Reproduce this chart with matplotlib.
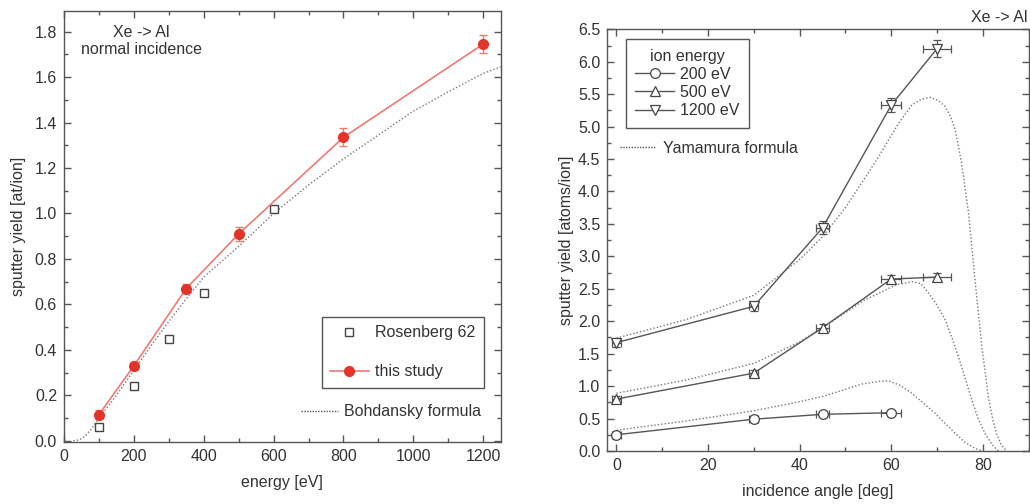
import matplotlib.pyplot as plt
from matplotlib.lines import Line2D
from matplotlib.ticker import MultipleLocator
import numpy as np

plt.rcParams['font.family'] = ['Liberation Sans', 'DejaVu Sans']
plt.rcParams['font.size'] = 11.5
plt.rcParams['text.color'] = '#333333'
plt.rcParams['axes.labelcolor'] = '#333333'
plt.rcParams['xtick.color'] = '#555555'
plt.rcParams['ytick.color'] = '#555555'
plt.rcParams['xtick.labelcolor'] = '#333333'
plt.rcParams['ytick.labelcolor'] = '#333333'

# --- left panel: yield vs energy, normal incidence ---
rosenEnergy = [100, 200, 300, 400, 600]
rosenYield = [0.06, 0.24, 0.45, 0.65, 1.02]

studyEnergy = [100, 200, 350, 500, 800, 1200]
studyYield = [0.115, 0.33, 0.67, 0.91, 1.335, 1.745]
studyErr = [0.02, 0.018, 0.018, 0.03, 0.04, 0.04]

bohdEnergy = [27, 45, 60, 80, 100, 150, 200, 250, 300, 350, 400, 500, 600,
              700, 800, 900, 1000, 1100, 1200, 1250]
bohdYield = [0.0, 0.005, 0.02, 0.055, 0.10, 0.20, 0.31, 0.42, 0.525, 0.625,
             0.72, 0.855, 1.0, 1.125, 1.24, 1.345, 1.45, 1.535, 1.616, 1.645]

# --- right panel: yield vs incidence angle ---
angles = [0, 30, 45, 60, 70]
yield200 = [0.25, 0.49, 0.565, 0.59]
yield500 = [0.80, 1.20, 1.90, 2.65, 2.68]
yield1200 = [1.67, 2.23, 3.44, 5.33, 6.20]
angleErr = [1.0, 1.0, 1.5, 2.2, 3.0]
err200 = [0.04, 0.04, 0.03, 0.04]
err500 = [0.05, 0.05, 0.05, 0.06, 0.06]
err1200 = [0.07, 0.07, 0.10, 0.11, 0.13]

yamaAngle200 = [0, 15, 30, 38, 45, 50, 53.5, 57, 59.5, 62, 64.5, 67, 69.6,
                72, 74, 76, 78.3, 80]
yamaYield200 = [0.32, 0.46, 0.62, 0.73, 0.84, 0.95, 1.03, 1.07, 1.08, 1.01,
                0.89, 0.74, 0.58, 0.41, 0.27, 0.14, 0.04, 0.0]
yamaAngle500 = [0, 15, 30, 40, 45, 50, 54, 57.3, 61, 64.5, 66.5, 68.2, 70,
                71.8, 73.3, 74.7, 76.2, 77.6, 79, 80.5, 82, 83.4]
yamaYield500 = [0.89, 1.09, 1.35, 1.68, 1.90, 2.13, 2.32, 2.43, 2.56, 2.61,
                2.58, 2.43, 2.25, 2.02, 1.74, 1.45, 1.11, 0.79, 0.50, 0.27,
                0.10, 0.0]
yamaAngle1200 = [0, 15, 30, 40, 45, 50, 54, 57.3, 61.6, 64.5, 66.5, 68.5,
                 70.3, 71.8, 73, 74, 75.4, 76.9, 78.3, 79.8, 81.2, 82.2, 83,
                 84, 85.2]
yamaYield1200 = [1.74, 2.02, 2.40, 2.95, 3.30, 3.75, 4.18, 4.54, 5.05, 5.33,
                 5.42, 5.45, 5.40, 5.31, 5.15, 4.95, 4.43, 3.66, 2.64, 1.61,
                 0.84, 0.48, 0.27, 0.10, 0.0]

fig = plt.figure(figsize=(10.3, 5.04), dpi=100)
axL = fig.add_axes([0.0621, 0.123, 0.424, 0.855])
axR = fig.add_axes([0.5896, 0.1052, 0.409, 0.8367])

red = '#e3342a'
redLine = '#f07a72'
gray = '#555555'


def styleAxes(ax):
    for s in ax.spines.values():
        s.set_color(gray)
        s.set_linewidth(1.0)
    ax.tick_params(which='both', direction='in', top=True, right=True,
                   width=1.0)
    ax.tick_params(which='major', length=5, pad=5)
    ax.tick_params(which='minor', length=3)


# left panel
axL.plot(bohdEnergy, bohdYield, ls=(0, (1, 1.5)), color='#777777', lw=1.0)
axL.plot(rosenEnergy, rosenYield, ls='none', marker='s', ms=6,
         mfc='white', mec='#444444', mew=1.0)
axL.plot(studyEnergy, studyYield, color=redLine, lw=1.2, zorder=3)
axL.errorbar(studyEnergy, studyYield, yerr=studyErr, fmt='o', ms=7,
             color=red, ecolor=redLine, elinewidth=1.0, capsize=3,
             zorder=4)
axL.set_xlim(0, 1250)
axL.set_ylim(-0.005, 1.89)
axL.xaxis.set_major_locator(MultipleLocator(200))
axL.xaxis.set_minor_locator(MultipleLocator(100))
axL.yaxis.set_major_locator(MultipleLocator(0.2))
axL.yaxis.set_minor_locator(MultipleLocator(0.1))
axL.yaxis.set_major_formatter(lambda v, p: f'{v:.1f}')
styleAxes(axL)
axL.set_xlabel('energy [eV]', labelpad=8)
axL.set_ylabel('sputter yield [at/ion]', labelpad=6)
axL.text(0.178, 0.93, 'Xe -> Al\nnormal incidence', transform=axL.transAxes,
         ha='center', va='center', linespacing=1.2)

hRosen = Line2D([], [], ls='none', marker='s', ms=6, mfc='white',
                mec='#444444', mew=1.0)
hStudy = Line2D([], [], color=redLine, lw=1.2, marker='o', ms=7,
                mfc=red, mec=red)
legL = axL.legend([hRosen, hStudy], ['Rosenberg 62', 'this study'],
                  loc='lower right', bbox_to_anchor=(0.962, 0.125),
                  fancybox=False, edgecolor=gray, framealpha=1,
                  handlelength=2.4, labelspacing=1.5, borderpad=0.55,
                  handletextpad=0.4, borderaxespad=0)
legL.get_frame().set_linewidth(1.0)
axL.add_artist(legL)
hBohd = Line2D([], [], ls=(0, (1, 1)), color='#555555', lw=1.0)
axL.legend([hBohd], ['Bohdansky formula'], loc='center left',
           bbox_to_anchor=(0.51, 0.07), frameon=False, handlelength=2.3,
           handletextpad=0.4)

# right panel
dotted = dict(ls=(0, (1, 1.5)), color='#777777', lw=1.0)
axR.plot(yamaAngle200, yamaYield200, **dotted)
axR.plot(yamaAngle500, yamaYield500, **dotted)
axR.plot(yamaAngle1200, yamaYield1200, **dotted)

series = [(yield200, err200, 'o'), (yield500, err500, '^'),
          (yield1200, err1200, 'v')]
for ys, es, mk in series:
    n = len(ys)
    axR.errorbar(angles[:n], ys, xerr=angleErr[:n], yerr=es, fmt='-',
                 marker=mk, ms=7, mfc='white', mec='#444444', mew=0.9,
                 color='#555555', lw=1.0, elinewidth=0.9, capsize=3,
                 capthick=0.9)

axR.set_xlim(-2, 90)
axR.set_ylim(0, 6.5)
axR.xaxis.set_major_locator(MultipleLocator(20))
axR.xaxis.set_minor_locator(MultipleLocator(10))
axR.yaxis.set_major_locator(MultipleLocator(0.5))
axR.yaxis.set_minor_locator(MultipleLocator(0.25))
axR.yaxis.set_major_formatter(lambda v, p: f'{v:.1f}')
styleAxes(axR)
axR.set_xlabel('incidence angle [deg]', labelpad=8)
axR.set_ylabel('sputter yield [atoms/ion]', labelpad=3)

hands = [Line2D([], [], color='#555555', lw=1.0, marker=m, ms=7,
                mfc='white', mec='#444444', mew=0.9) for m in ['o', '^', 'v']]
legR = axR.legend(hands, ['200 eV', '500 eV', '1200 eV'], title='ion energy',
                  loc='upper left', bbox_to_anchor=(0.044, 0.977),
                  fancybox=False, edgecolor=gray, framealpha=1,
                  handlelength=2.4, labelspacing=0.2, borderpad=0.6,
                  handletextpad=0.4, borderaxespad=0)
legR.get_frame().set_linewidth(1.0)
axR.add_artist(legR)
hYama = Line2D([], [], ls=(0, (1, 1)), color='#555555', lw=1.0)
axR.legend([hYama], ['Yamamura formula'], loc='center left',
           bbox_to_anchor=(-0.005, 0.718), frameon=False, handlelength=2.3,
           handletextpad=0.4)

fig.text(0.998, 1 - 17 / 504, 'Xe -> Al', ha='right', va='center')

fig.savefig('out.png', dpi=100)
